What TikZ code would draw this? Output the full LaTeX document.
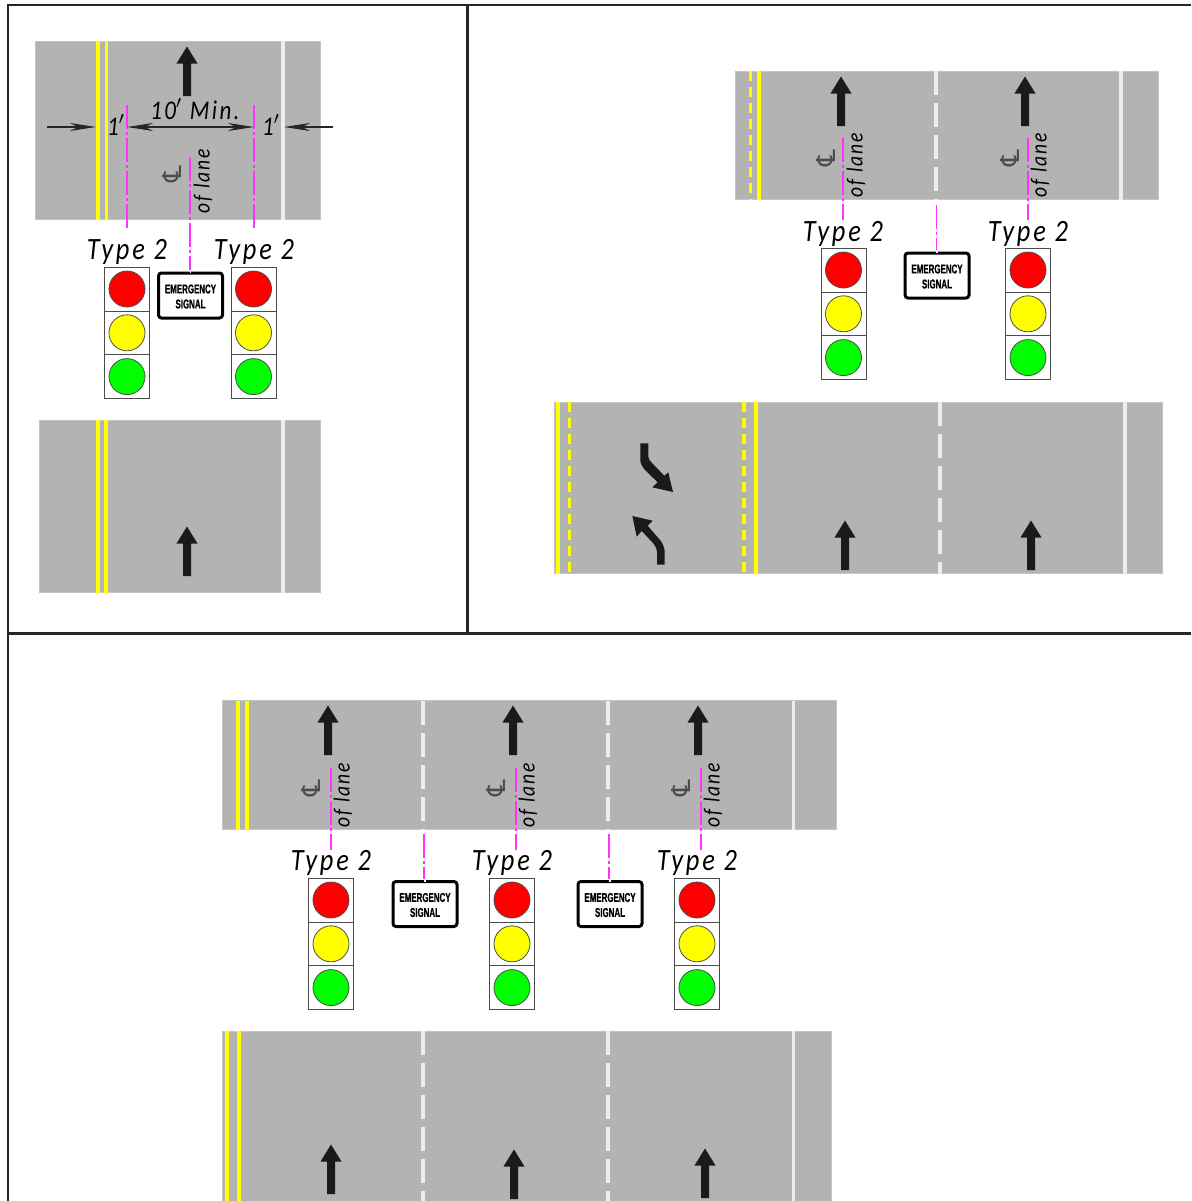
\documentclass[tikz,border=0pt]{standalone}
\usepackage{fontspec}
\usepackage{graphicx}
\usetikzlibrary{arrows.meta}
\setmainfont{Liberation Sans}
\newfontfamily\clfont{DejaVu Sans}
\newfontfamily\lblfont[LetterSpace=9,FakeStretch=.85]{Carlito}
\newfontfamily\signfont[BoldFeatures={FakeBold=1}]{Liberation Sans}
\definecolor{roadgray}{HTML}{B3B3B3}
\definecolor{edgegray}{HTML}{C4C4C4}
\definecolor{lineyellow}{HTML}{FFFF00}
\definecolor{linewhite}{HTML}{EDEDED}
\definecolor{clmag}{HTML}{FF33FF}
\definecolor{arrowblack}{HTML}{1A1A1A}
\tikzset{
  frameline/.style={draw=black!85,line width=1pt},
  heavyline/.style={draw=black!85,line width=1.5pt},
  road/.style={fill=roadgray,draw=edgegray,line width=.3pt},
  yellowsolid/.style={draw=lineyellow,line width=1.75pt},
  yellowdash/.style={draw=lineyellow,line width=1.75pt,dash pattern=on 5pt off 3pt},
  whitesolid/.style={draw=linewhite,line width=1.75pt},
  whitedash/.style={draw=linewhite,line width=1.75pt,dash pattern=on 12pt off 4pt},
  cl/.style={draw=clmag,line width=.8pt,dash pattern=on 12pt off 1.5pt on 1.5pt off 1.5pt},
  arrowfill/.style={fill=arrowblack,draw=none},
  cell/.style={draw=black!70,fill=white,line width=.4pt,minimum width=22.6pt,minimum height=21.9pt,inner sep=0pt},
  lamp/.style={circle,draw=black!70,line width=.4pt,minimum size=18pt,inner sep=0pt},
  signbox/.style={draw=black,fill=white,line width=1.5pt,rounded corners=1.5pt,minimum width=32pt,minimum height=22.5pt,inner sep=0pt},
  signtext/.style={inner sep=0pt,font=\fontsize{6.4}{7}\signfont\bfseries},
  typelabel/.style={inner sep=0pt,yshift=-1pt,font=\fontsize{15.5}{16}\lblfont\itshape},
  dimlabel/.style={inner sep=0pt,font=\fontsize{13.5}{15}\lblfont\itshape},
  lanelabel/.style={inner sep=0pt,rotate=90,font=\fontsize{11.5}{13}\lblfont\itshape},
  clsym/.style={inner sep=0pt,rotate=90,text=black!70,font=\fontsize{13}{14}\clfont},
  dimline/.style={draw=black!85,line width=.7pt,-{Stealth[length=13pt,width=4pt,inset=4pt]}}
}
% straight arrow: cx, tail y (bottom), tip y = tail - 49 px
\newcommand{\uparrowmark}[2]{\fill[arrowfill] (#1-4,#2) -- (#1-4,#2-32.5) -- (#1-10.5,#2-32.5) -- (#1,#2-49.5) -- (#1+10.5,#2-32.5) -- (#1+4,#2-32.5) -- (#1+4,#2) -- cycle;}
% signal head: name, centre x, centre y of red lamp
\newcommand{\signalhead}[3]{%
  \node[cell] (#1a) at (#2,#3) {};
  \node[cell] (#1b) at (#2,#3+43.8) {};
  \node[cell] (#1c) at (#2,#3+87.6) {};
  \node[lamp,fill=red] (#1r) at (#2,#3) {};
  \node[lamp,fill=lineyellow] (#1y) at (#2,#3+43.8) {};
  \node[lamp,fill=green] (#1g) at (#2,#3+87.6) {};
}
% sign: name, centre x, centre y
\newcommand{\emsign}[3]{%
  \node[signbox] (#1) at (#2,#3) {};
  \node[signtext] (#1t) at (#2,#3-6.5) {\scalebox{.62}[1]{EMERGENCY}};
  \node[signtext] (#1u) at (#2,#3+8.5) {\scalebox{.62}[1]{SIGNAL}};
  \draw[white,line width=.8pt] (#1.north) ++(0,-1.5) -- ++(0,3);
}
% lane centre label: name, CL x, of-lane x, y
\newcommand{\lanelbl}[4]{%
  \node[clsym] (#1s) at (#2,#4-7) {\char"2104};
  \node[lanelabel] (#1l) at (#3,#4) {of lane};
}
\newcommand{\clline}[4]{\coordinate (#1t) at (#2,#3); \coordinate (#1b) at (#2,#4); \draw[cl] (#1t) -- (#1b);}
\begin{document}
\begin{tikzpicture}[x=.5pt,y=-.5pt]
\useasboundingbox (0,0) rectangle (1191,1201);
\fill[white] (0,0) rectangle (1191,1201);
% frame
\coordinate (f1) at (1191,4.5); \coordinate (f2) at (8,4.5); \coordinate (f3) at (8,1201);
\draw[frameline] (f1) -- (f2) -- (f3);
\coordinate (f4) at (467.5,4.5); \coordinate (f5) at (467.5,633); \coordinate (f6) at (8,633); \coordinate (f7) at (1191,633);
\draw[heavyline] (f4) -- (f5);
\draw[heavyline] (f6) -- (f7);

% ---------- Panel A
\filldraw[road] (35,41) rectangle (320.5,219.5);
\draw[yellowsolid] (98,41) -- (98,219.5);
\draw[yellowsolid] (106.5,41) -- (106.5,219.5);
\draw[whitesolid] (283,41) -- (283,219.5);
\uparrowmark{187}{96}
\clline{a1}{127}{105}{229}
\clline{a2}{254}{105}{229}
\clline{a3}{190}{157}{270}
\coordinate (d1) at (47,127); \coordinate (d2) at (96,127);
\coordinate (d3) at (127,127); \coordinate (d4) at (254,127);
\coordinate (d5) at (333,127); \coordinate (d6) at (284,127);
\draw[dimline] (d1) -- (d2);
\draw[dimline,{Stealth[length=13pt,width=4pt,inset=4pt]}-{Stealth[length=13pt,width=4pt,inset=4pt]}] (d3) -- (d4);
\draw[dimline] (d5) -- (d6);
\node[dimlabel] (t1) at (116,125) {1$'$};
\node[dimlabel] (t2) at (271,125) {1$'$};
\node[dimlabel] (t3) at (195,109) {10$'$ Min.};
\lanelbl{la}{172}{203}{181}
\node[typelabel] (ta1) at (127,250) {Type 2};
\node[typelabel] (ta2) at (254,250) {Type 2};
\signalhead{sa1}{127}{289}
\signalhead{sa2}{253.5}{289}
\emsign{ea}{190.5}{295.5}
\filldraw[road] (39,420) rectangle (320.5,592.5);
\draw[yellowsolid] (98,420) -- (98,592.5);
\draw[yellowsolid] (106,420) -- (106,592.5);
\draw[whitesolid] (283,420) -- (283,592.5);
\uparrowmark{187}{576}

% ---------- Panel B top
\filldraw[road] (735,71) rectangle (1158,199.5);
\draw[yellowdash] (750.5,71) -- (750.5,199.5);
\draw[yellowsolid] (759,71) -- (759,199.5);
\draw[whitedash] (936,71) -- (936,199.5);
\draw[whitesolid] (1121,71) -- (1121,199.5);
\uparrowmark{841}{126}
\uparrowmark{1025}{126}
\clline{b1}{843}{138}{220}
\clline{b2}{1028}{138}{220}
\clline{b3}{936.5}{205}{250}
\lanelbl{lb}{826}{856}{165}
\lanelbl{lc}{1010}{1040}{165}
\node[typelabel] (tb1) at (843,232) {Type 2};
\node[typelabel] (tb2) at (1028,232) {Type 2};
\signalhead{sb1}{843.5}{270}
\signalhead{sb2}{1028}{270}
\emsign{eb}{937}{275.5}

% ---------- Panel B bottom
\filldraw[road] (554,402) rectangle (1162,573.5);
\draw[yellowsolid] (558,402) -- (558,573.5);
\draw[yellowdash] (569.5,402) -- (569.5,573.5);
\draw[yellowdash] (744,402) -- (744,573.5);
\draw[yellowsolid] (756,402) -- (756,573.5);
\draw[whitedash] (940,402) -- (940,573.5);
\draw[whitesolid] (1125,402) -- (1125,573.5);
\uparrowmark{845}{570}
\uparrowmark{1031}{570}
% curved arrows
\fill[arrowfill] (640.3,443.3) -- (648.3,443.3) -- (648.3,456.7) .. controls (648.5,459) and (650,461.5) .. (652.3,463.3) -- (664.3,475.7) -- (668.3,472.3) -- (673,492) -- (652.3,487.3) -- (657.7,482.3) -- (645,470) .. controls (642,466.5) and (640.3,463) .. (640.3,460) -- cycle;
\fill[arrowfill] (657,564.7) -- (664.7,564.7) -- (664.7,551.7) .. controls (664.5,547) and (662.5,543) .. (660,540) -- (647.7,525.7) -- (652.7,520.7) -- (632.3,516) -- (636.7,536.7) -- (641.7,531) -- (653.3,543.3) .. controls (655.5,546) and (657,549) .. (657,551.7) -- cycle;

% ---------- Panel C top
\filldraw[road] (222,700.5) rectangle (836,829.5);
\draw[yellowsolid] (238,700.5) -- (238,829.5);
\draw[yellowsolid] (247,700.5) -- (247,829.5);
\draw[whitedash] (423,700.5) -- (423,829.5);
\draw[whitedash] (608,700.5) -- (608,829.5);
\draw[whitesolid] (793.5,700.5) -- (793.5,829.5);
\uparrowmark{328}{755}
\uparrowmark{513}{755}
\uparrowmark{698}{755}
\clline{c1}{331}{768}{850}
\clline{c2}{516}{768}{850}
\clline{c3}{701}{768}{850}
\clline{c4}{424}{834}{879}
\clline{c5}{609}{834}{879}
\lanelbl{ld}{311}{343}{795}
\lanelbl{le}{496}{528}{795}
\lanelbl{lf}{681}{713}{795}
\node[typelabel] (tc1) at (331,861) {Type 2};
\node[typelabel] (tc2) at (512,861) {Type 2};
\node[typelabel] (tc3) at (697,861) {Type 2};
\signalhead{sc1}{331}{900}
\signalhead{sc2}{512}{900}
\signalhead{sc3}{697}{900}
\emsign{ec1}{425}{904}
\emsign{ec2}{610}{904}

% ---------- Panel C bottom
\filldraw[road] (222,1031) rectangle (831,1201);
\draw[yellowsolid] (227,1031) -- (227,1201);
\draw[yellowsolid] (239,1031) -- (239,1201);
\draw[whitedash] (423,1031) -- (423,1201);
\draw[whitedash] (608,1031) -- (608,1201);
\draw[whitesolid] (793.5,1031) -- (793.5,1201);
\uparrowmark{331}{1194}
\uparrowmark{514}{1199}
\uparrowmark{705}{1198}
\end{tikzpicture}
\end{document}
